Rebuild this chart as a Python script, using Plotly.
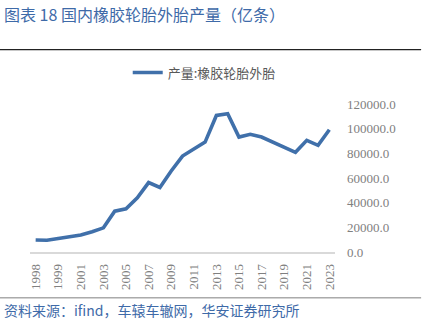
import plotly.graph_objects as go

# Category labels (every other category is labelled on the axis)
tick_labels = ["1998", "1999", "2001", "2003", "2005", "2007", "2009",
               "2011", "2013", "2015", "2017", "2019", "2021", "2023"]
# Series values: 产量:橡胶轮胎外胎 (万条)
values = [9700, 9500, 11000, 12400, 13700, 16400, 19600, 33100, 35000,
          43900, 56300, 52300, 65700, 77800, 83200, 89100, 110700, 112100,
          93200, 95400, 93200, 89100, 84800, 80800, 90500, 86500, 99100]
y_ticks = [0, 20000, 40000, 60000, 80000, 100000, 120000]

x_idx = list(range(len(values)))
tick_pos = x_idx[0::2]

W, H = 435, 325
L, R, T, B = 30.4, 100, 103.5, 73
pw = W - L - R
ph = H - T - B

def px(x):
    return (x - L) / pw

def py(y):
    return (H - B - y) / ph

fig = go.Figure()
fig.add_trace(go.Scatter(
    x=x_idx, y=values, mode="lines", name="产量:橡胶轮胎外胎",
    line=dict(color="#4070AA", width=3.6),
))

fig.update_layout(
    width=W, height=H,
    margin=dict(l=L, r=R, t=T, b=B, pad=0),
    paper_bgcolor="white", plot_bgcolor="white",
    showlegend=True,
    legend=dict(orientation="h", x=px(128), y=py(72), xanchor="left",
                yanchor="middle", font=dict(family="Noto Sans CJK SC", size=13,
                                            color="#595959"),
                bgcolor="rgba(0,0,0,0)"),
    xaxis=dict(range=[-0.5, len(values) - 0.5], tickmode="array",
               tickvals=tick_pos, ticktext=tick_labels, tickangle=-90,
               showgrid=False, zeroline=False, showline=True,
               linecolor="#d9d9d9", linewidth=1.5, ticks="",
               tickfont=dict(family="Liberation Serif", size=13, color="#808080"),
               ticklabelstandoff=5),
    yaxis=dict(range=[0, 120000], side="right", tickmode="array",
               tickvals=y_ticks, ticktext=[f"{v:.1f}" for v in y_ticks],
               showgrid=False, zeroline=False, showline=False, ticks="",
               tickfont=dict(family="Liberation Serif", size=13, color="#808080"),
               ticklabelstandoff=11),
)

fig.add_annotation(text="图表 18 国内橡胶轮胎外胎产量（亿条）", xref="paper", yref="paper",
                   x=px(2), y=py(13), xanchor="left", yanchor="middle",
                   showarrow=False,
                   font=dict(family="Noto Sans CJK SC", size=16, color="#3E6AA8"))
fig.add_annotation(text="资料来源：ifind，车辕车辙网，华安证券研究所", xref="paper", yref="paper",
                   x=px(2), y=py(310), xanchor="left", yanchor="middle",
                   showarrow=False,
                   font=dict(family="Noto Sans CJK SC", size=14, color="#3E6AA8"))
fig.add_shape(type="line", xref="paper", yref="paper", x0=px(0), x1=px(421),
              y0=py(49), y1=py(49), line=dict(color="#222222", width=1.3))
fig.add_shape(type="line", xref="paper", yref="paper", x0=px(0), x1=px(421),
              y0=py(298), y1=py(298), line=dict(color="#7f7f7f", width=1))

fig.write_html("out.html")
